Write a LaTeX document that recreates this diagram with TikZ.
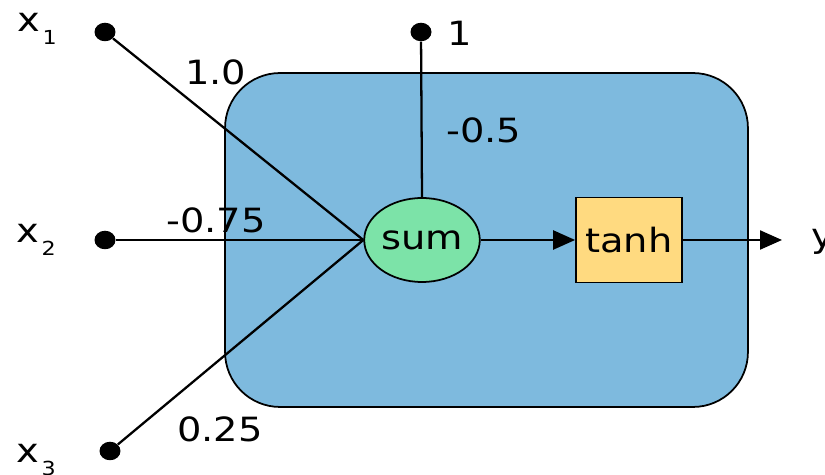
\documentclass[tikz,border=0pt]{standalone}
\usepackage{fontspec}
\setmainfont{DejaVu Sans}[FakeStretch=1.15]
\usetikzlibrary{shapes.geometric, arrows.meta, positioning}
\definecolor{cellblue}{RGB}{126,186,222}
\definecolor{sumgreen}{RGB}{124,227,168}
\definecolor{actyellow}{RGB}{255,218,128}
\newcommand{\inpsub}[1]{\kern1.5pt\raisebox{-7pt}{\fontsize{11}{12}\selectfont #1}}
\tikzset{
  lbl/.style={font=\fontsize{19}{22}\selectfont, inner sep=0pt, anchor=base west},
  indot/.style={ellipse, fill=black, inner sep=0pt, minimum width=0.42cm,
    minimum height=0.37cm},
  cell/.style={rectangle, rounded corners=1.1cm, draw, line width=1pt,
    fill=cellblue, minimum width=10.46cm, minimum height=6.68cm},
  sumnode/.style={ellipse, draw, line width=1pt, fill=sumgreen, inner sep=0pt,
    minimum width=2.08cm, minimum height=1.68cm, font=\fontsize{19}{22}\selectfont},
  actbox/.style={rectangle, draw, line width=1pt, fill=actyellow, inner sep=0pt,
    minimum width=2.12cm, minimum height=1.7cm, font=\fontsize{19}{22}\selectfont},
  wire/.style={line width=1.3pt},
  arrow/.style={-{Triangle[length=0.44cm, width=0.38cm]}, line width=1.3pt},
}

\begin{document}
\begin{tikzpicture}[x=0.02cm, y=-0.02cm]
  \useasboundingbox (0,0) rectangle (825,475);
  % neuron body
  \node[cell] (cell) at (486.5,240) {};
  \node[sumnode] (sum) at (422,240) {sum};
  \node[actbox] (tanh) at (629,240) {tanh};
  % inputs
  \node[indot] (x1) at (105,32) {};
  \node[indot] (x2) at (105,240) {};
  \node[indot] (x3) at (110,451) {};
  \node[indot] (bias) at (421,32) {};
  \node[lbl] (x1lbl) at (17,32) {x\inpsub{1}};
  \node[lbl] (x2lbl) at (16,243) {x\inpsub{2}};
  \node[lbl] (x3lbl) at (16,463) {x\inpsub{3}};
  \node[lbl] (biaslbl) at (447,46) {1};
  % weights
  \node[lbl] (w1) at (185,85) {1.0};
  \node[lbl] (w2) at (166,233) {-0.75};
  \node[lbl] (w3) at (177,442) {0.25};
  \node[lbl] (wb) at (446,143) {-0.5};
  \draw[wire] (x1) -- (sum.west);
  \draw[wire] (x2) -- (sum.west);
  \draw[wire] (x3) -- (sum.west);
  \draw[wire] (bias) -- (sum.north);
  % output
  \coordinate (yend) at (782,240);
  \node[lbl] (ylbl) at (811,248) {y};
  \draw[arrow] (sum) -- (tanh);
  \draw[arrow] (tanh) -- (yend);
\end{tikzpicture}
\end{document}
